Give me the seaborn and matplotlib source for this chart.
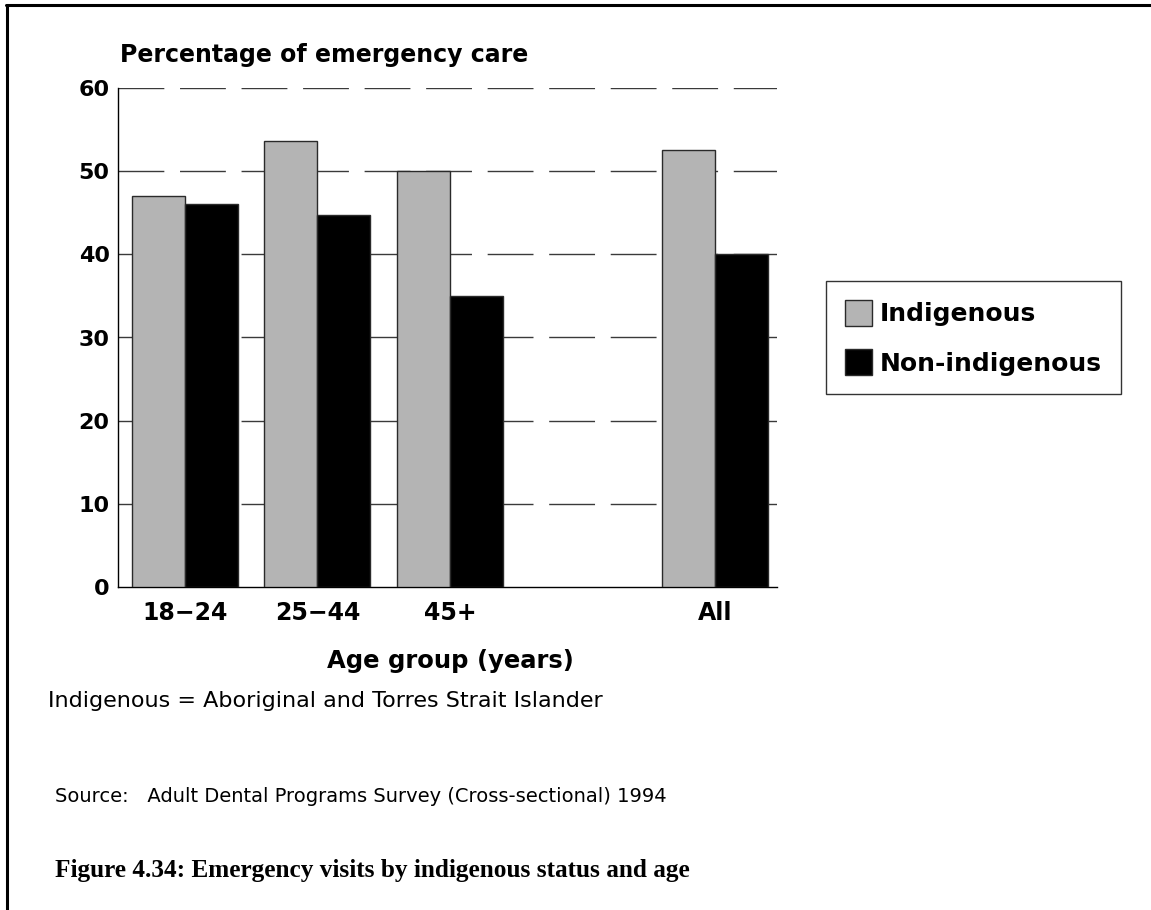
import matplotlib
matplotlib.use("Agg")
import matplotlib.pyplot as plt
import seaborn as sns
import pandas as pd
from matplotlib.lines import Line2D

# ---- data ----
categories = ["18\u221224", "25\u221244", "45+", "All"]
axis_order = ["18\u221224", "25\u221244", "45+", " ", "All"]
indigenous = [47.0, 53.6, 50.0, 52.6]
non_indigenous = [46.0, 44.7, 35.0, 40.0]
series = ["Indigenous", "Non-indigenous"]
y_ticks = [0, 10, 20, 30, 40, 50, 60]

df = pd.DataFrame({
    "group": categories * 2,
    "status": [series[0]] * len(categories) + [series[1]] * len(categories),
    "value": indigenous + non_indigenous,
})

sns.set_theme(style="white")
plt.rcParams["font.family"] = ["DejaVu Sans"]
plt.rcParams["text.color"] = "black"
plt.rcParams["xtick.color"] = "black"
plt.rcParams["ytick.color"] = "black"

W, H = 1151, 910
fig = plt.figure(figsize=(W / 100, H / 100), dpi=100)
fig.patch.set_facecolor("white")
ax = fig.add_axes([118 / W, 1 - 587 / H, (777 - 118) / W, (587 - 88) / H])

sns.barplot(data=df, x="group", y="value", hue="status", order=axis_order,
            hue_order=series, palette=["#b4b4b4", "#000000"], width=0.8,
            edgecolor="#2a2a2a", linewidth=1.0, ax=ax, legend=True, zorder=3)

ax.set_ylim(0, 60)
ax.set_xlim(-0.505, 4.47)
ax.set_yticks(y_ticks)
ax.set_yticklabels([str(t) for t in y_ticks], fontsize=16, fontweight="bold")
ax.set_xticks(range(len(axis_order)))
ax.set_xticklabels(axis_order, fontsize=17, fontweight="bold")
ax.tick_params(axis="both", length=0)
ax.tick_params(axis="y", pad=6)
ax.tick_params(axis="x", pad=10)
ax.set_xlabel("")
ax.set_ylabel("")

for t in y_ticks[1:]:
    ax.axhline(t, color="#3a3a3a", lw=1.0, linestyle=(0, (33, 11.3)), zorder=1)

for s in ["top", "right"]:
    ax.spines[s].set_visible(False)
for s in ["left", "bottom"]:
    ax.spines[s].set_color("black")
    ax.spines[s].set_linewidth(1.0)

# legend
handles, labels = ax.get_legend_handles_labels()
ax.legend_.remove()
leg = fig.legend(handles, labels, loc="upper left",
                 bbox_to_anchor=(826 / W, 1 - 281 / H),
                 prop={"family": "DejaVu Sans", "weight": "bold", "size": 18},
                 frameon=True, fancybox=False, shadow=False, framealpha=1,
                 edgecolor="#333333", handlelength=1.1, handleheight=1.25,
                 handletextpad=0.3, labelspacing=0.9, borderpad=0.75,
                 borderaxespad=0)
leg.get_frame().set_linewidth(1.0)

# texts
fig.text(120 / W, 1 - 55 / H, "Percentage of emergency care", fontsize=17,
         fontweight="bold", ha="left", va="center")
fig.text(450 / W, 1 - 661 / H, "Age group (years)", fontsize=17.5,
         fontweight="bold", ha="center", va="center")
fig.text(48 / W, 1 - 701 / H, "Indigenous = Aboriginal and Torres Strait Islander",
         fontsize=16, ha="left", va="center")
fig.text(55 / W, 1 - 797 / H,
         "Source:   Adult Dental Programs Survey (Cross-sectional) 1994",
         fontsize=14, ha="left", va="center")
fig.text(55 / W, 1 - 870 / H,
         "Figure 4.34: Emergency visits by indigenous status and age",
         fontsize=18.2, fontweight="bold", family="Liberation Serif",
         ha="left", va="center")

# page frame
fig.add_artist(Line2D([6 / W, 1], [1 - 5 / H, 1 - 5 / H], color="black",
                      lw=2.2, transform=fig.transFigure))
fig.add_artist(Line2D([7 / W, 7 / W], [0, 1 - 5 / H], color="black",
                      lw=2.2, transform=fig.transFigure))

fig.savefig("out.png", dpi=100, facecolor="white")
